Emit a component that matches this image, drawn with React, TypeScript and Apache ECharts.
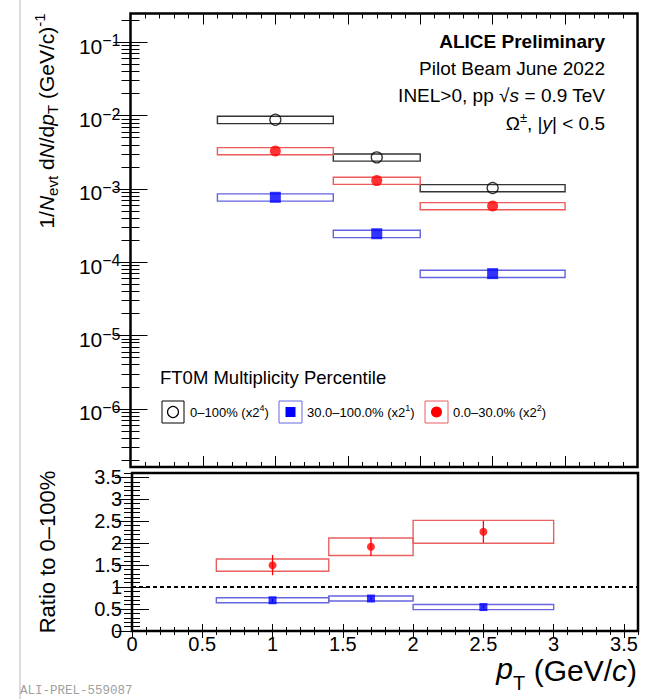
import React, { useEffect, useRef } from 'react';
import * as echarts from 'echarts';

// ---- data ----
const binLow = [0.6, 1.4, 2.0];
const binHigh = [1.4, 2.0, 3.0];
const binCenter = [1.0, 1.7, 2.5];

// spectra (scaled)
const yieldAll = [8.8e-3, 2.7e-3, 1.03e-3]; // 0–100% (x2^4)
const yieldAllSys = [1.0e-3, 3.0e-4, 1.15e-4];
const yieldLowMult = [7.7e-4, 2.45e-4, 7.0e-5]; // 30–100% (x2^1)
const yieldLowMultSys = [8.8e-5, 2.8e-5, 8.0e-6];
const yieldHighMult = [3.3e-3, 1.3e-3, 5.86e-4]; // 0–30% (x2^2)
const yieldHighMultSys = [3.7e-4, 1.45e-4, 6.5e-5];

// ratios to 0–100%
const ratioHigh = [1.5, 1.92, 2.26];
const ratioHighSys = [0.14, 0.2, 0.26];
const ratioHighStat = [0.23, 0.21, 0.25];
const ratioLow = [0.7, 0.74, 0.545];
const ratioLowSys = [0.058, 0.058, 0.058];
const ratioLowStat = [0.03, 0.03, 0.03];
const ratioRef = 1;

// ticks
const xMajorTicks = [0, 0.5, 1, 1.5, 2, 2.5, 3, 3.5];
const xMinorTicks: number[] = [];
for (let i = 0; i <= 36; i++) if (i % 5 !== 0) xMinorTicks.push(i / 10);
const logMajorTicks = [1e-7, 1e-6, 1e-5, 1e-4, 1e-3, 1e-2, 1e-1, 1];
const logMinorTicks: number[] = [];
for (let e = -7; e <= -1; e++) for (let k = 2; k <= 9; k++) logMinorTicks.push(Number((k * Math.pow(10, e)).toPrecision(3)));
const ratioMajorTicks = [0, 0.5, 1, 1.5, 2, 2.5, 3, 3.5];
const ratioMinorTicks: number[] = [];
for (let i = 0; i <= 36; i++) if (i % 5 !== 0) ratioMinorTicks.push(i / 10);

// ranges
const topXMax = 3.5;
const botXMax = 3.6;
const topYMin = 1.61e-7;
const topYMax = 0.2477;
const ratioMin = 0;
const ratioMax = 3.6;

const FONT = '"Liberation Sans", Arial, Helvetica, sans-serif';

const topGrid = { left: 130.5, top: 13.5, width: 507, height: 453.5 };
const botGrid = { left: 132, top: 473, width: 506, height: 158 };

function xAx(gridIndex: number, position: string, max: number, ticks: number[], len: number, labels?: any) {
  return {
    type: 'value', gridIndex, position, min: 0, max,
    axisLine: { show: false },
    splitLine: { show: false },
    axisTick: { show: true, inside: true, length: len, customValues: ticks, lineStyle: { color: '#000', width: 1 } },
    axisLabel: labels ? labels : { show: false },
  };
}
function yAx(gridIndex: number, position: string, type: string, min: number, max: number, ticks: number[], len: number, labels?: any) {
  return {
    type, gridIndex, position, min, max, logBase: 10,
    axisLine: { show: false },
    splitLine: { show: false },
    axisTick: { show: true, inside: true, length: len, customValues: ticks, lineStyle: { color: '#000', width: 1 } },
    axisLabel: labels ? labels : { show: false },
  };
}

function boxSeries(xi: number, yi: number, vals: number[], sys: number[], color: string, lw: number) {
  return {
    type: 'custom', xAxisIndex: xi, yAxisIndex: yi, z: 2, silent: true,
    data: vals.map((v, i) => [binLow[i], binHigh[i], v - sys[i], v + sys[i]]),
    encode: { x: [0, 1], y: [2, 3] },
    renderItem: (params: any, api: any) => {
      const a = api.coord([api.value(0), api.value(3)]);
      const b = api.coord([api.value(1), api.value(2)]);
      return {
        type: 'rect',
        shape: { x: a[0], y: a[1], width: b[0] - a[0], height: b[1] - a[1] },
        style: { fill: 'none', stroke: color, lineWidth: lw },
      };
    },
  };
}
function errSeries(xi: number, yi: number, vals: number[], err: number[], color: string) {
  return {
    type: 'custom', xAxisIndex: xi, yAxisIndex: yi, z: 3, silent: true,
    data: vals.map((v, i) => [binCenter[i], v - err[i], v + err[i]]),
    encode: { x: 0, y: [1, 2] },
    renderItem: (params: any, api: any) => {
      const a = api.coord([api.value(0), api.value(1)]);
      const b = api.coord([api.value(0), api.value(2)]);
      return {
        type: 'line',
        shape: { x1: a[0], y1: a[1], x2: b[0], y2: b[1] },
        style: { stroke: color, lineWidth: 1.3 },
      };
    },
  };
}
function pointSeries(xi: number, yi: number, vals: number[], symbol: string, size: number, itemStyle: any) {
  return {
    type: 'scatter', xAxisIndex: xi, yAxisIndex: yi, z: 5, silent: true,
    symbol, symbolSize: size, itemStyle,
    data: vals.map((v, i) => [binCenter[i], v]),
  };
}

function txt(x: number, y: number, text: string, size: number, align: string, extra: any = {}) {
  return {
    type: 'text', x, y, silent: true,
    style: {
      text, fontSize: size, fontFamily: FONT, fill: '#000',
      align, verticalAlign: 'middle', textAlign: align, textVerticalAlign: 'middle',
      ...extra,
    },
  };
}

const option: any = {
  animation: false,
  backgroundColor: '#fff',
  grid: [
    { ...topGrid, show: true, borderColor: '#000', borderWidth: 2.5, backgroundColor: 'transparent' },
    { ...topGrid, show: false },
    { ...botGrid, show: true, borderColor: '#000', borderWidth: 2.5, backgroundColor: 'transparent' },
    { ...botGrid, show: false },
  ],
  xAxis: [
    xAx(0, 'bottom', topXMax, xMajorTicks, 11),
    xAx(0, 'top', topXMax, xMajorTicks, 11),
    xAx(1, 'bottom', topXMax, xMinorTicks, 5),
    xAx(1, 'top', topXMax, xMinorTicks, 5),
    xAx(2, 'bottom', botXMax, xMajorTicks, 7, {
      show: true, customValues: xMajorTicks, margin: 5, fontSize: 20, lineHeight: 16, fontFamily: FONT, color: '#000',
    }),
    xAx(2, 'top', botXMax, xMajorTicks, 7),
    xAx(3, 'bottom', botXMax, xMinorTicks, 4),
    xAx(3, 'top', botXMax, xMinorTicks, 4),
  ],
  yAxis: [
    yAx(0, 'left', 'log', topYMin, topYMax, logMajorTicks, 17, {
      show: true, customValues: logMajorTicks, margin: 10, padding: [5, 0, 0, 0],
      formatter: (v: number) => {
        const e = Math.round(Math.log10(v));
        return '{b|10}{s|' + (e < 0 ? '\u2212' + -e : String(e)) + '}';
      },
      rich: {
        b: { fontSize: 21, fontFamily: FONT, color: '#000', lineHeight: 24, verticalAlign: 'bottom' },
        s: { fontSize: 16, fontFamily: FONT, color: '#000', lineHeight: 17, verticalAlign: 'top' },
      },
    }),
    yAx(0, 'right', 'log', topYMin, topYMax, logMajorTicks, 17),
    yAx(1, 'left', 'log', topYMin, topYMax, logMinorTicks, 9),
    yAx(1, 'right', 'log', topYMin, topYMax, logMinorTicks, 9),
    yAx(2, 'left', 'value', ratioMin, ratioMax, ratioMajorTicks, 17, {
      show: true, customValues: ratioMajorTicks, margin: 10, fontSize: 20, lineHeight: 18, fontFamily: FONT, color: '#000',
    }),
    yAx(2, 'right', 'value', ratioMin, ratioMax, ratioMajorTicks, 17),
    yAx(3, 'left', 'value', ratioMin, ratioMax, ratioMinorTicks, 8),
    yAx(3, 'right', 'value', ratioMin, ratioMax, ratioMinorTicks, 8),
  ],
  series: [
    boxSeries(0, 0, yieldAll, yieldAllSys, '#333333', 1.4),
    boxSeries(0, 0, yieldHighMult, yieldHighMultSys, '#ee5a5a', 1.4),
    boxSeries(0, 0, yieldLowMult, yieldLowMultSys, '#6262e2', 1.4),
    pointSeries(0, 0, yieldAll, 'circle', 11, { color: 'rgba(0,0,0,0)', borderColor: '#000', borderWidth: 1.3 }),
    pointSeries(0, 0, yieldHighMult, 'circle', 11, { color: '#ff0000' }),
    pointSeries(0, 0, yieldLowMult, 'rect', 11, { color: '#0000ff' }),

    {
      type: 'line', xAxisIndex: 4, yAxisIndex: 4, z: 1, silent: true, symbol: 'none',
      data: [[0, ratioRef], [botXMax, ratioRef]],
      lineStyle: { color: '#000', width: 2, type: [4, 3] },
    },
    boxSeries(4, 4, ratioHigh, ratioHighSys, '#e86060', 1.4),
    boxSeries(4, 4, ratioLow, ratioLowSys, '#6666e0', 1.4),
    errSeries(4, 4, ratioHigh, ratioHighStat, '#ff0000'),
    errSeries(4, 4, ratioLow, ratioLowStat, '#0000ff'),
    pointSeries(4, 4, ratioHigh, 'circle', 8, { color: '#ff0000' }),
    pointSeries(4, 4, ratioLow, 'rect', 8, { color: '#0000ff' }),
  ],
  graphic: [
    { type: 'line', silent: true, shape: { x1: 20, y1: 0, x2: 20, y2: 699 }, style: { stroke: '#dddddd', lineWidth: 2 } },
    // y titles
    {
      type: 'text', x: 46, y: 121, rotation: Math.PI / 2, silent: true,
      style: {
        text: '1/{i|N}{sub|evt} d{i|N}/d{i|p}{sub|T} (GeV/c){sup|-1}',
        fontSize: 21, fontFamily: FONT, fill: '#000', lineHeight: 28,
        align: 'center', verticalAlign: 'middle', textAlign: 'center', textVerticalAlign: 'middle',
        rich: {
          i: { fontStyle: 'italic', fontSize: 21, fontFamily: FONT, lineHeight: 28 },
          sub: { fontSize: 15, verticalAlign: 'bottom', lineHeight: 15, fontFamily: FONT },
          sup: { fontSize: 15, verticalAlign: 'top', lineHeight: 15, fontFamily: FONT },
        },
      },
    },
    {
      type: 'text', x: 47, y: 552, rotation: Math.PI / 2, silent: true,
      style: {
        text: 'Ratio to 0\u2013100%', fontSize: 22, fontFamily: FONT, fill: '#000',
        align: 'center', verticalAlign: 'middle', textAlign: 'center', textVerticalAlign: 'middle',
      },
    },
    // x title: p_T (GeV/c)
    txt(637, 670, '(GeV/{i|c})', 30, 'right', { lineHeight: 26, rich: { i: { fontStyle: 'italic', fontSize: 30, fontFamily: FONT, lineHeight: 26 } } }),
    txt(513, 668, 'p', 30, 'right', { fontStyle: 'italic', lineHeight: 22 }),
    txt(513, 683, 'T', 20, 'left', { lineHeight: 16 }),
    // top-right labels
    txt(605, 41.5, 'ALICE Preliminary', 19, 'right', { fontWeight: 'bold' }),
    txt(605, 68, 'Pilot Beam June 2022', 19, 'right'),
    txt(605, 95, 'INEL>0, pp \u221A{i|s} = 0.9 TeV', 19, 'right', { rich: { i: { fontStyle: 'italic', fontSize: 19, fontFamily: FONT } } }),
    txt(605, 123, '\u03A9{sup|\u00B1}, |{i|y}| < 0.5', 19, 'right', {
      lineHeight: 24,
      rich: {
        i: { fontStyle: 'italic', fontSize: 19, fontFamily: FONT, lineHeight: 24 },
        sup: { fontSize: 13, verticalAlign: 'top', lineHeight: 14, fontFamily: FONT },
      },
    }),
    // legend
    txt(160, 377, 'FT0M Multiplicity Percentile', 18.5, 'left'),
    { type: 'rect', silent: true, shape: { x: 162, y: 401, width: 22, height: 22 }, style: { fill: 'none', stroke: '#000', lineWidth: 1 } },
    { type: 'circle', silent: true, shape: { cx: 173, cy: 412, r: 5.5 }, style: { fill: 'none', stroke: '#000', lineWidth: 1.2 } },
    txt(190, 412, '0\u2013100% (x2{sup|4})', 13, 'left', { lineHeight: 18, rich: { sup: { fontSize: 9, verticalAlign: 'top', lineHeight: 10, fontFamily: FONT } } }),
    { type: 'rect', silent: true, shape: { x: 279, y: 401, width: 23, height: 22 }, style: { fill: 'none', stroke: '#6666e0', lineWidth: 1 } },
    { type: 'rect', silent: true, shape: { x: 285.5, y: 407, width: 10, height: 10 }, style: { fill: '#0000ff' } },
    txt(307, 412, '30.0\u2013100.0% (x2{sup|1})', 13, 'left', { lineHeight: 18, rich: { sup: { fontSize: 9, verticalAlign: 'top', lineHeight: 10, fontFamily: FONT } } }),
    { type: 'rect', silent: true, shape: { x: 425, y: 401, width: 23, height: 22 }, style: { fill: 'none', stroke: '#e86060', lineWidth: 1 } },
    { type: 'circle', silent: true, shape: { cx: 436.5, cy: 412, r: 5.5 }, style: { fill: '#ff0000' } },
    txt(453, 412, '0.0\u201330.0% (x2{sup|2})', 13, 'left', { lineHeight: 18, rich: { sup: { fontSize: 9, verticalAlign: 'top', lineHeight: 10, fontFamily: FONT } } }),
    // watermark
    txt(20, 691, 'ALI-PREL-559087', 12.5, 'left', { fontFamily: '"Liberation Mono", "DejaVu Sans Mono", monospace', fill: '#a0a0a0' }),
  ],
};

export default function App() {
  const ref = useRef<HTMLDivElement>(null);
  useEffect(() => {
    document.body.style.margin = '0';
    const chart = echarts.init(ref.current as HTMLDivElement, null, { renderer: 'svg' });
    chart.setOption(option);
    return () => chart.dispose();
  }, []);
  return <div ref={ref} style={{ width: 656, height: 699 }} />;
}
